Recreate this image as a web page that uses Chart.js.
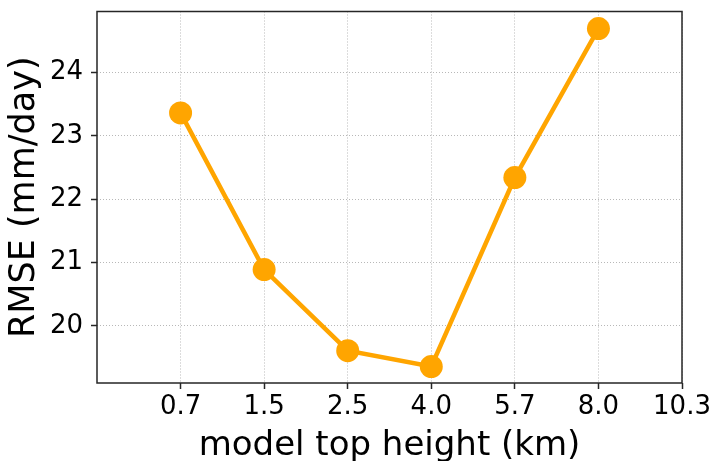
<!DOCTYPE html>
<html>
<head>
<meta charset="utf-8">
<script src="https://cdn.jsdelivr.net/npm/chart.js@4"></script>
<style>
  html, body { margin: 0; padding: 0; background: #fff; }
  #wrap { width: 716px; height: 461px; }
</style>
</head>
<body>
<div id="wrap"><canvas id="c" width="716" height="461"></canvas></div>
<script>
// model top heights (km) used as equally spaced tick labels
const heights = ["0.7", "1.5", "2.5", "4.0", "5.7", "8.0", "10.3"];
// RMSE (mm/day) for the first six heights
const rmse = [23.36, 20.89, 19.61, 19.36, 22.34, 24.69];
const yTicks = [20, 21, 22, 23, 24];

const ORANGE = "#ffa500";
const AXIS = "#262626";
const FONT = "'DejaVu Sans', sans-serif";

// matplotlib-style box around the axes
const frame = {
  id: "frame",
  afterDraw(chart) {
    const { ctx, chartArea: a } = chart;
    ctx.save();
    ctx.strokeStyle = AXIS;
    ctx.lineWidth = 1.5;
    ctx.strokeRect(a.left, a.top, a.right - a.left, a.bottom - a.top);
    ctx.restore();
  },
};

const gridOpts = {
  color: "rgba(0,0,0,0.28)",
  lineWidth: 1,
  tickLength: 6,
  tickColor: AXIS,
  tickWidth: 1.5,
};

new Chart(document.getElementById("c"), {
  type: "line",
  data: {
    datasets: [{
      data: rmse.map((v, i) => ({ x: i, y: v })),
      borderColor: ORANGE,
      backgroundColor: ORANGE,
      borderWidth: 4.5,
      pointRadius: 11.5,
      pointHoverRadius: 11.5,
      pointBorderWidth: 0,
      tension: 0,
      clip: false,
    }],
  },
  options: {
    responsive: false,
    animation: false,
    layout: { padding: { top: 7, right: 34, left: 0, bottom: 0 } },
    plugins: { legend: { display: false }, tooltip: { enabled: false } },
    scales: {
      x: {
        type: "linear",
        min: -1,
        max: heights.length - 1,
        afterBuildTicks: (s) => { s.ticks = heights.map((_, i) => ({ value: i })); },
        afterFit: (s) => { s.height = 78; s.paddingLeft = 0; s.paddingRight = 0; },
        ticks: {
          autoSkip: false,
          maxRotation: 0,
          padding: 3,
          color: "#000",
          font: { family: FONT, size: 26 },
          callback: (v) => heights[v] ?? "",
        },
        grid: gridOpts,
        border: { display: false, dash: [1, 2] },
        title: {
          display: true,
          text: "model top height (km)",
          color: "#000",
          font: { family: FONT, size: 34, lineHeight: 0.8 },
          padding: { top: 0, bottom: 1 },
        },
      },
      y: {
        min: 19.1,
        max: 24.96,
        afterBuildTicks: (s) => { s.ticks = yTicks.map((v) => ({ value: v })); },
        afterFit: (s) => { s.width = 97; s.paddingTop = 0; s.paddingBottom = 0; },
        ticks: {
          padding: 8,
          color: "#000",
          font: { family: FONT, size: 26 },
        },
        grid: gridOpts,
        border: { display: false, dash: [1, 2] },
        title: {
          display: true,
          text: "RMSE (mm/day)",
          color: "#000",
          font: { family: FONT, size: 35, lineHeight: 1.2 },
          padding: { top: 4, bottom: 0 },
        },
      },
    },
  },
  plugins: [frame],
});
</script>
</body>
</html>
